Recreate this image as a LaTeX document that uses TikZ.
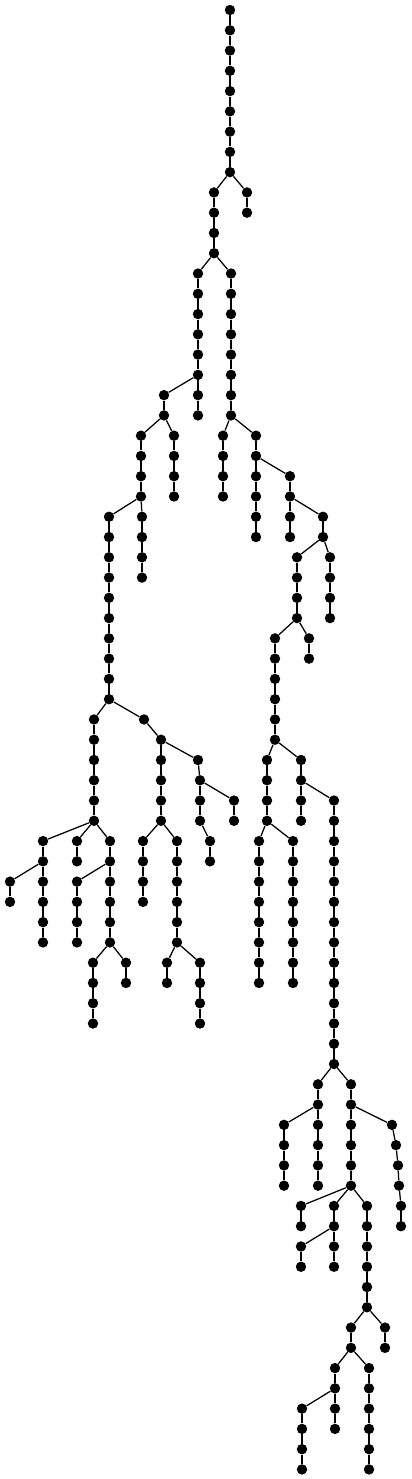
\documentclass[tikz,border=0pt]{standalone}
\begin{document}
\begin{tikzpicture}[x=0.75pt,y=0.75pt,
  vtx/.style={circle,fill=black,draw=none,inner sep=0pt,minimum size=7.8pt},
  edge/.style={draw=black,line width=0.95pt}]
\useasboundingbox (0,0) rectangle (411,-1479);
\def\treelist{0/230/0,1/230/230,2/230/230,3/230/230,4/230/230,5/230/230,6/230/230,7/230/230,8/230/230,
9/214/230,9/247/230,10/214/214,10/247/247,11/214/214,12/214/214,
13/198/214,13/231/214,14/198/198,14/231/231,15/198/198,15/231/231,16/198/198,16/231/231,17/198/198,17/231/231,18/198/198,18/231/231,
19/164/198,19/198/198,19/231/231,20/164/164,20/198/198,20/231/231,
21/141/164,21/174/164,21/223/231,21/256/231,
22/141/141,22/174/174,22/223/223,22/256/256,
23/141/141,23/174/174,23/223/223,23/256/256,23/290/256,
24/141/141,24/174/174,24/223/223,24/256/256,24/290/290,
25/109/141,25/142/141,25/256/256,25/290/290,25/323/290,
26/109/109,26/142/142,26/256/256,26/290/290,26/323/323,
27/109/109,27/142/142,27/297/323,27/330/323,
28/109/109,28/142/142,28/297/297,28/330/330,
29/109/109,29/297/297,29/330/330,
30/109/109,30/297/297,30/330/330,
31/109/109,31/275/297,31/309/297,
32/109/109,32/275/275,32/309/309,
33/109/109,33/275/275,34/109/109,34/275/275,
35/94/109,35/144/109,35/275/275,
36/94/94,36/161/144,36/275/275,
37/94/94,37/161/161,37/198/161,37/267/275,37/301/275,
38/94/94,38/161/161,38/200/198,38/267/267,38/301/301,
39/94/94,39/161/161,39/200/200,39/234/200,39/267/267,39/301/301,39/334/301,
40/94/94,40/161/161,40/200/200,40/234/234,40/267/267,40/301/301,40/334/334,
41/43/94,41/77/94,41/110/94,41/143/161,41/177/161,41/210/200,41/259/267,41/293/267,41/334/334,
42/43/43,42/77/77,42/110/110,42/143/143,42/177/177,42/210/210,42/259/259,42/293/293,42/334/334,
43/10/43,43/43/43,43/77/110,43/110/110,43/143/143,43/177/177,43/259/259,43/293/293,43/334/334,
44/10/10,44/43/43,44/77/77,44/110/110,44/143/143,44/177/177,44/259/259,44/293/293,44/334/334,
45/43/43,45/77/77,45/110/110,45/177/177,45/259/259,45/293/293,45/334/334,
46/43/43,46/77/77,46/110/110,46/177/177,46/259/259,46/293/293,46/334/334,
47/93/110,47/126/110,47/167/177,47/200/177,47/259/259,47/293/293,47/334/334,
48/93/93,48/126/126,48/167/167,48/200/200,48/259/259,48/293/293,48/334/334,
49/93/93,49/200/200,49/334/334,50/93/93,50/200/200,50/334/334,
51/334/334,52/334/334,
53/318/334,53/351/334,54/318/318,54/351/351,
55/284/318,55/318/318,55/351/351,55/392/351,
56/284/284,56/318/318,56/351/351,56/396/392,
57/284/284,57/318/318,57/351/351,57/398/396,
58/284/284,58/318/318,58/351/351,58/399/398,
59/301/351,59/334/351,59/367/351,59/401/399,
60/301/301,60/334/334,60/367/367,60/401/401,
61/301/334,61/334/334,61/367/367,
62/301/301,62/334/334,62/367/367,
63/367/367,64/367/367,
65/351/367,65/385/367,66/351/351,66/385/385,
67/335/351,67/369/351,68/335/335,68/369/369,
69/302/335,69/335/335,69/369/369,
70/302/302,70/335/335,70/369/369,
71/302/302,71/369/369,72/302/302,72/369/369}
\foreach \r/\x/\p in \treelist {
  \node[vtx] (n\r x\x) at (\x,{-10-20.27*\r}) {};
}
\foreach \r/\x/\p [evaluate=\r as \q using int(\r-1)] in \treelist {
  \ifnum\r>0 \draw[edge] (n\q x\p) -- (n\r x\x);\fi
}
\end{tikzpicture}
\end{document}
